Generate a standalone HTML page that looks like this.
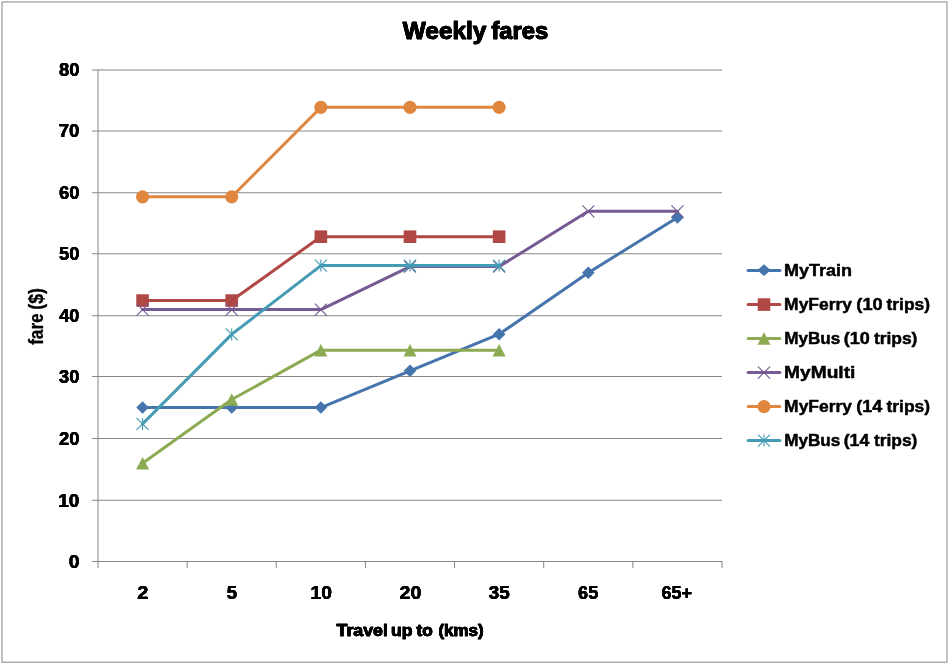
<!DOCTYPE html>
<html lang="en">
<head>
<meta charset="utf-8">
<title>Weekly fares</title>
<style>
html,body{margin:0;padding:0;background:#fff;}
body{width:950px;height:665px;overflow:hidden;}
svg{display:block;}
text{font-family:"Liberation Sans",Arial,sans-serif;font-weight:bold;fill:#000;stroke:#000;stroke-linejoin:round;}
.t{font-size:23.0px;stroke-width:0.7px;}
.a{font-size:17.6px;stroke-width:0.2px;}
.x{font-size:17.4px;stroke-width:0.6px;}
.l{font-size:17.4px;stroke-width:0.5px;}
.y{font-size:17.4px;stroke-width:0.25px;}
</style>
</head>
<body>
<svg width="950" height="665" viewBox="0 0 950 665">
<defs>
<filter id="ft" x="-10%" y="-30%" width="120%" height="160%"><feOffset in="SourceGraphic" dx="0.45" dy="0" result="a"/><feOffset in="SourceGraphic" dx="-0.45" dy="0" result="b"/><feMerge><feMergeNode in="a"/><feMergeNode in="b"/><feMergeNode in="SourceGraphic"/></feMerge></filter>
<filter id="fa" x="-10%" y="-30%" width="120%" height="160%"><feOffset in="SourceGraphic" dx="0.35" dy="0" result="a"/><feOffset in="SourceGraphic" dx="-0.35" dy="0" result="b"/><feMerge><feMergeNode in="a"/><feMergeNode in="b"/><feMergeNode in="SourceGraphic"/></feMerge></filter>
<filter id="fx" x="-10%" y="-30%" width="120%" height="160%"><feOffset in="SourceGraphic" dx="0.4" dy="0" result="a"/><feOffset in="SourceGraphic" dx="-0.4" dy="0" result="b"/><feMerge><feMergeNode in="a"/><feMergeNode in="b"/><feMergeNode in="SourceGraphic"/></feMerge></filter>
</defs>
<rect x="0" y="0" width="950" height="665" fill="#fff"/>
<rect x="2" y="2" width="945" height="660.2" fill="#fff" stroke="#868686" stroke-width="1"/>
<g stroke="#868686" stroke-width="1" fill="none">
<path d="M92.00 500.25H722.00"/>
<path d="M92.00 438.50H722.00"/>
<path d="M92.00 376.50H722.00"/>
<path d="M92.00 315.75H722.00"/>
<path d="M92.00 253.75H722.00"/>
<path d="M92.00 192.75H722.00"/>
<path d="M92.00 131.00H722.00"/>
<path d="M92.00 70.00H722.00"/>
</g>
<g stroke="#868686" stroke-width="1" fill="none">
<path d="M98.00 69.50V568.00"/>
<path d="M92.00 561.50H722.50"/>
<path d="M187.14 561.50V568.00"/>
<path d="M276.29 561.50V568.00"/>
<path d="M365.43 561.50V568.00"/>
<path d="M454.57 561.50V568.00"/>
<path d="M543.71 561.50V568.00"/>
<path d="M632.86 561.50V568.00"/>
<path d="M722.00 561.50V568.00"/>
</g>
<polyline points="142.57,407.54 231.71,407.54 320.86,407.54 410.00,370.86 499.14,334.18 588.29,272.74 677.43,217.45" fill="none" stroke="#4674ac" stroke-width="3.0" stroke-linejoin="round" stroke-linecap="round"/>
<path d="M136.27 407.54L142.57 401.24L148.87 407.54L142.57 413.84Z" fill="#4674ac"/>
<path d="M225.41 407.54L231.71 401.24L238.01 407.54L231.71 413.84Z" fill="#4674ac"/>
<path d="M314.56 407.54L320.86 401.24L327.16 407.54L320.86 413.84Z" fill="#4674ac"/>
<path d="M403.70 370.86L410.00 364.56L416.30 370.86L410.00 377.16Z" fill="#4674ac"/>
<path d="M492.84 334.18L499.14 327.88L505.44 334.18L499.14 340.48Z" fill="#4674ac"/>
<path d="M581.99 272.74L588.29 266.44L594.59 272.74L588.29 279.04Z" fill="#4674ac"/>
<path d="M671.13 217.45L677.43 211.15L683.73 217.45L677.43 223.75Z" fill="#4674ac"/>
<polyline points="142.57,300.57 231.71,300.57 320.86,236.68 410.00,236.68 499.14,236.68" fill="none" stroke="#b04845" stroke-width="3.0" stroke-linejoin="round" stroke-linecap="round"/>
<rect x="136.27" y="294.27" width="12.60" height="12.60" fill="#b04845"/>
<rect x="225.41" y="294.27" width="12.60" height="12.60" fill="#b04845"/>
<rect x="314.56" y="230.38" width="12.60" height="12.60" fill="#b04845"/>
<rect x="403.70" y="230.38" width="12.60" height="12.60" fill="#b04845"/>
<rect x="492.84" y="230.38" width="12.60" height="12.60" fill="#b04845"/>
<polyline points="142.57,463.20 231.71,399.55 320.86,350.16 410.00,350.16 499.14,350.16" fill="none" stroke="#8caa52" stroke-width="3.0" stroke-linejoin="round" stroke-linecap="round"/>
<path d="M142.57 457.00L149.07 469.50L136.07 469.50Z" fill="#8caa52"/>
<path d="M231.71 393.35L238.21 405.85L225.21 405.85Z" fill="#8caa52"/>
<path d="M320.86 343.96L327.36 356.46L314.36 356.46Z" fill="#8caa52"/>
<path d="M410.00 343.96L416.50 356.46L403.50 356.46Z" fill="#8caa52"/>
<path d="M499.14 343.96L505.64 356.46L492.64 356.46Z" fill="#8caa52"/>
<polyline points="142.57,309.61 231.71,309.61 320.86,309.61 410.00,266.60 499.14,266.60 588.29,211.31 677.43,211.31" fill="none" stroke="#755a93" stroke-width="3.0" stroke-linejoin="round" stroke-linecap="round"/>
<path d="M136.57 303.61L148.57 315.61M148.57 303.61L136.57 315.61" stroke="#755a93" stroke-width="1.15" fill="none"/>
<path d="M225.71 303.61L237.71 315.61M237.71 303.61L225.71 315.61" stroke="#755a93" stroke-width="1.15" fill="none"/>
<path d="M314.86 303.61L326.86 315.61M326.86 303.61L314.86 315.61" stroke="#755a93" stroke-width="1.15" fill="none"/>
<path d="M404.00 260.60L416.00 272.60M416.00 260.60L404.00 272.60" stroke="#755a93" stroke-width="1.15" fill="none"/>
<path d="M493.14 260.60L505.14 272.60M505.14 260.60L493.14 272.60" stroke="#755a93" stroke-width="1.15" fill="none"/>
<path d="M582.29 205.31L594.29 217.31M594.29 205.31L582.29 217.31" stroke="#755a93" stroke-width="1.15" fill="none"/>
<path d="M671.43 205.31L683.43 217.31M683.43 205.31L671.43 217.31" stroke="#755a93" stroke-width="1.15" fill="none"/>
<polyline points="142.57,196.81 231.71,196.81 320.86,107.35 410.00,107.35 499.14,107.35" fill="none" stroke="#e0873f" stroke-width="3.0" stroke-linejoin="round" stroke-linecap="round"/>
<circle cx="142.57" cy="196.81" r="6.6" fill="#e0873f"/>
<circle cx="231.71" cy="196.81" r="6.6" fill="#e0873f"/>
<circle cx="320.86" cy="107.35" r="6.6" fill="#e0873f"/>
<circle cx="410.00" cy="107.35" r="6.6" fill="#e0873f"/>
<circle cx="499.14" cy="107.35" r="6.6" fill="#e0873f"/>
<polyline points="142.57,423.88 231.71,334.43 320.86,265.62 410.00,265.62 499.14,265.62" fill="none" stroke="#449bb4" stroke-width="3.0" stroke-linejoin="round" stroke-linecap="round"/>
<path d="M136.57 417.88L148.57 429.88M148.57 417.88L136.57 429.88M142.57 417.88L142.57 429.88" stroke="#449bb4" stroke-width="1.15" fill="none"/>
<path d="M225.71 328.43L237.71 340.43M237.71 328.43L225.71 340.43M231.71 328.43L231.71 340.43" stroke="#449bb4" stroke-width="1.15" fill="none"/>
<path d="M314.86 259.62L326.86 271.62M326.86 259.62L314.86 271.62M320.86 259.62L320.86 271.62" stroke="#449bb4" stroke-width="1.15" fill="none"/>
<path d="M404.00 259.62L416.00 271.62M416.00 259.62L404.00 271.62M410.00 259.62L410.00 271.62" stroke="#449bb4" stroke-width="1.15" fill="none"/>
<path d="M493.14 259.62L505.14 271.62M505.14 259.62L493.14 271.62M499.14 259.62L499.14 271.62" stroke="#449bb4" stroke-width="1.15" fill="none"/>
<text class="t" filter="url(#ft)" y="39.00"><tspan x="402.80" textLength="83.60" lengthAdjust="spacingAndGlyphs">Weekly</tspan> <tspan x="491.44" textLength="56.72" lengthAdjust="spacingAndGlyphs">fares</tspan></text>
<text class="a" filter="url(#fa)" y="568.00"><tspan x="68.68" textLength="10.77" lengthAdjust="spacingAndGlyphs">0</tspan></text>
<text class="a" filter="url(#fa)" y="507.00"><tspan x="58.31" textLength="21.14" lengthAdjust="spacingAndGlyphs">10</tspan></text>
<text class="a" filter="url(#fa)" y="445.00"><tspan x="58.90" textLength="20.53" lengthAdjust="spacingAndGlyphs">20</tspan></text>
<text class="a" filter="url(#fa)" y="383.00"><tspan x="59.09" textLength="20.33" lengthAdjust="spacingAndGlyphs">30</tspan></text>
<text class="a" filter="url(#fa)" y="322.00"><tspan x="59.28" textLength="20.14" lengthAdjust="spacingAndGlyphs">40</tspan></text>
<text class="a" filter="url(#fa)" y="260.00"><tspan x="59.00" textLength="20.43" lengthAdjust="spacingAndGlyphs">50</tspan></text>
<text class="a" filter="url(#fa)" y="199.00"><tspan x="58.90" textLength="20.53" lengthAdjust="spacingAndGlyphs">60</tspan></text>
<text class="a" filter="url(#fa)" y="137.00"><tspan x="58.71" textLength="20.73" lengthAdjust="spacingAndGlyphs">70</tspan></text>
<text class="a" filter="url(#fa)" y="76.00"><tspan x="59.00" textLength="20.43" lengthAdjust="spacingAndGlyphs">80</tspan></text>
<text class="a" filter="url(#fa)" y="599.00"><tspan x="137.35" textLength="11.12" lengthAdjust="spacingAndGlyphs">2</tspan></text>
<text class="a" filter="url(#fa)" y="599.00"><tspan x="226.69" textLength="10.34" lengthAdjust="spacingAndGlyphs">5</tspan></text>
<text class="a" filter="url(#fa)" y="599.00"><tspan x="310.50" textLength="21.36" lengthAdjust="spacingAndGlyphs">10</tspan></text>
<text class="a" filter="url(#fa)" y="599.00"><tspan x="399.56" textLength="21.82" lengthAdjust="spacingAndGlyphs">20</tspan></text>
<text class="a" filter="url(#fa)" y="599.00"><tspan x="488.88" textLength="20.99" lengthAdjust="spacingAndGlyphs">35</tspan></text>
<text class="a" filter="url(#fa)" y="599.00"><tspan x="578.12" textLength="20.13" lengthAdjust="spacingAndGlyphs">65</tspan></text>
<text class="a" filter="url(#fa)" y="599.00"><tspan x="661.62" textLength="30.47" lengthAdjust="spacingAndGlyphs">65+</tspan></text>
<text class="x" filter="url(#fx)" y="636.00"><tspan x="336.52" textLength="51.34" lengthAdjust="spacingAndGlyphs">Travel</tspan> <tspan x="390.94" textLength="21.60" lengthAdjust="spacingAndGlyphs">up</tspan> <tspan x="416.43" textLength="16.24" lengthAdjust="spacingAndGlyphs">to</tspan> <tspan x="438.45" textLength="45.25" lengthAdjust="spacingAndGlyphs">(kms)</tspan></text>
<text class="y" transform="matrix(0 -1 1.1500 0 42.60 0)" y="0"><tspan x="-344.88" textLength="31.55" lengthAdjust="spacingAndGlyphs">fare</tspan> <tspan x="-309.76" textLength="21.66" lengthAdjust="spacingAndGlyphs">($)</tspan></text>
<path d="M748.1 270.55H779.9" stroke="#4674ac" stroke-width="3.0" stroke-linecap="round" fill="none"/>
<path d="M757.3 270.15L764 264.25L770.7 270.15L764 276.05Z" fill="#4674ac"/>
<text class="l" y="276.00"><tspan x="784.08" textLength="68.02" lengthAdjust="spacingAndGlyphs">MyTrain</tspan></text>
<path d="M748.1 304.55H779.9" stroke="#b04845" stroke-width="3.0" stroke-linecap="round" fill="none"/>
<rect x="757.70" y="298.25" width="12.60" height="12.60" fill="#b04845"/>
<text class="l" y="310.00"><tspan x="784.12" textLength="67.83" lengthAdjust="spacingAndGlyphs">MyFerry</tspan> <tspan x="856.34" textLength="26.35" lengthAdjust="spacingAndGlyphs">(10</tspan> <tspan x="886.48" textLength="43.55" lengthAdjust="spacingAndGlyphs">trips)</tspan></text>
<path d="M748.1 338.55H779.9" stroke="#8caa52" stroke-width="3.0" stroke-linecap="round" fill="none"/>
<path d="M764.00 332.35L770.50 344.85L757.50 344.85Z" fill="#8caa52"/>
<text class="l" y="344.00"><tspan x="784.14" textLength="56.16" lengthAdjust="spacingAndGlyphs">MyBus</tspan> <tspan x="843.65" textLength="26.13" lengthAdjust="spacingAndGlyphs">(10</tspan> <tspan x="873.88" textLength="43.55" lengthAdjust="spacingAndGlyphs">trips)</tspan></text>
<path d="M748.1 372.55H779.9" stroke="#755a93" stroke-width="3.0" stroke-linecap="round" fill="none"/>
<path d="M758.00 366.55L770.00 378.55M770.00 366.55L758.00 378.55" stroke="#755a93" stroke-width="1.15" fill="none"/>
<text class="l" y="378.00"><tspan x="784.00" textLength="71.42" lengthAdjust="spacingAndGlyphs">MyMulti</tspan></text>
<path d="M748.1 406.55H779.9" stroke="#e0873f" stroke-width="3.0" stroke-linecap="round" fill="none"/>
<circle cx="764.00" cy="406.55" r="6.6" fill="#e0873f"/>
<text class="l" y="412.00"><tspan x="784.12" textLength="67.83" lengthAdjust="spacingAndGlyphs">MyFerry</tspan> <tspan x="856.35" textLength="25.89" lengthAdjust="spacingAndGlyphs">(14</tspan> <tspan x="886.48" textLength="43.55" lengthAdjust="spacingAndGlyphs">trips)</tspan></text>
<path d="M748.1 440.55H779.9" stroke="#449bb4" stroke-width="3.0" stroke-linecap="round" fill="none"/>
<path d="M758.00 434.55L770.00 446.55M770.00 434.55L758.00 446.55M764.00 434.55L764.00 446.55" stroke="#449bb4" stroke-width="1.15" fill="none"/>
<text class="l" y="446.00"><tspan x="784.14" textLength="56.16" lengthAdjust="spacingAndGlyphs">MyBus</tspan> <tspan x="843.66" textLength="25.68" lengthAdjust="spacingAndGlyphs">(14</tspan> <tspan x="873.88" textLength="43.55" lengthAdjust="spacingAndGlyphs">trips)</tspan></text>
</svg>
</body>
</html>
